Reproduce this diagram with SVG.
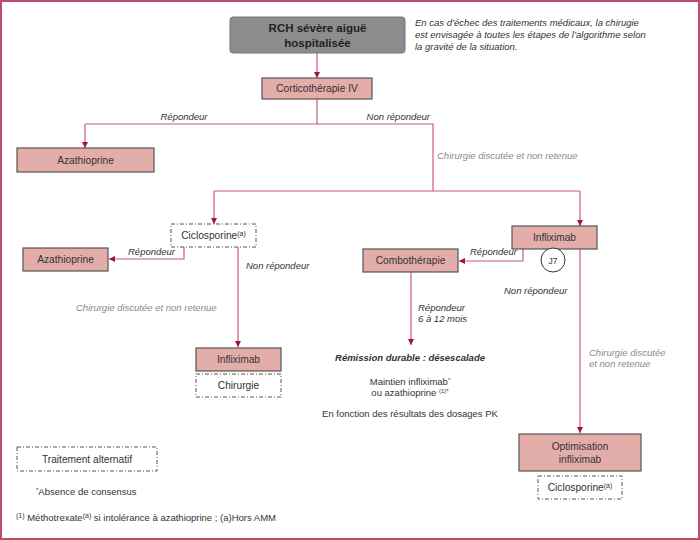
<svg xmlns="http://www.w3.org/2000/svg" width="700" height="540" viewBox="0 0 700 540">
<defs>
<marker id="ah" viewBox="0 0 6 6" refX="6" refY="3" markerWidth="6" markerHeight="6" markerUnits="userSpaceOnUse" orient="auto">
<path d="M0,0 L6,3 L0,6 Z" fill="#a3143c"/>
</marker>
<style>
text{font-family:"Liberation Sans",Arial,sans-serif;font-size:9.5px;fill:#333}
.c{text-anchor:middle}
.it{font-style:italic}
.g{fill:#8a8a8a}
.bt{font-size:10.2px}
.box{fill:#e3adaa;stroke:#555;stroke-width:1.2}
.dash{fill:#fff;stroke:#555;stroke-width:1;stroke-dasharray:4 2 1 2}
.ln{fill:none;stroke:#cc5a80;stroke-width:1.2}
.ar{marker-end:url(#ah)}
</style>
</defs>
<rect x="1" y="1" width="698" height="538" fill="#fff" stroke="#c24a6e" stroke-width="2"/>

<g id="connectors">
<path class="ln ar" d="M317,53 V78"/>
<path class="ln" d="M317,99 V124 M85,124 H433 V191 M214,191 H580"/>
<path class="ln ar" d="M85,124 V148"/>
<path class="ln ar" d="M214,191 V224"/>
<path class="ln ar" d="M580,191 V226"/>
<path class="ln ar" d="M184,247 V259 H109"/>
<path class="ln ar" d="M238,247 V347"/>
<path class="ln ar" d="M523,249 V261 H459"/>
<path class="ln ar" d="M580,249 V433"/>
<path class="ln ar" d="M411,272 V345"/>
</g>

<g id="rch">
<rect x="230" y="17" width="175" height="36" rx="3" fill="#8c8c8c" stroke="#777" stroke-width="1"/>
<text class="c" x="317.5" y="32" style="font-size:11.5px;font-weight:bold;fill:#222">RCH sévère aiguë</text>
<text class="c" x="317.5" y="47" style="font-size:11.5px;font-weight:bold;fill:#222">hospitalisée</text>
</g>
<g id="note">
<text class="it" x="415" y="26">En cas d’échec des traitements médicaux, la chirugie</text>
<text class="it" x="415" y="38">est envisagée à toutes les étapes de l’algorithme selon</text>
<text class="it" x="415" y="50">la gravité de la situation.</text>
</g>
<g id="cortico">
<rect class="box" x="262" y="78" width="110" height="21"/>
<text class="c bt" x="317" y="92">Corticothérapie IV</text>
</g>
<g id="labels-top">
<text class="it c" x="184" y="120">Répondeur</text>
<text class="it" x="430" y="120" text-anchor="end">Non répondeur</text>
<text class="it g" x="437" y="159">Chirurgie discutée et non retenue</text>
</g>
<g id="aza1">
<rect class="box" x="17" y="148" width="137" height="24"/>
<text class="c bt" x="85.5" y="164">Azathioprine</text>
</g>
<g id="ciclo1">
<rect class="dash" x="171" y="224" width="85" height="23"/>
<text class="c bt" x="213.5" y="239">Ciclosporine<tspan dy="-3" style="font-size:7px">(a)</tspan></text>
</g>
<g id="aza2">
<rect class="box" x="23" y="248" width="85" height="23"/>
<text class="c bt" x="65.5" y="263">Azathioprine</text>
</g>
<g id="labels-left">
<text class="it" x="128" y="255">Répondeur</text>
<text class="it" x="246" y="269">Non répondeur</text>
<text class="it g" x="76" y="311">Chirurgie discutée et non retenue</text>
</g>
<g id="inflix2">
<rect class="box" x="196" y="348" width="85" height="23"/>
<text class="c bt" x="238.5" y="363">Infliximab</text>
</g>
<g id="chirurgie">
<rect class="dash" x="196" y="374" width="85" height="23"/>
<text class="c bt" x="238.5" y="389">Chirurgie</text>
</g>
<g id="inflix1">
<rect class="box" x="512" y="226" width="85" height="23"/>
<text class="c bt" x="554.5" y="241">Infliximab</text>
</g>
<g id="j7">
<circle cx="553" cy="260" r="12" fill="#fff" stroke="#333" stroke-width="1"/>
<text class="c" x="553" y="263.5" style="font-size:8.5px">J7</text>
</g>
<g id="combo">
<rect class="box" x="363" y="249" width="95" height="23"/>
<text class="c bt" x="410.5" y="264">Combothérapie</text>
</g>
<g id="labels-right">
<text class="it" x="470" y="255">Répondeur</text>
<text class="it" x="504" y="294">Non répondeur</text>
<text class="it" x="418" y="311">Répondeur</text>
<text class="it" x="418" y="322">6 à 12 mois</text>
<text class="it g" x="589" y="356">Chirurgie discutée</text>
<text class="it g" x="589" y="367">et non retenue</text>
</g>
<g id="remission">
<text class="c it" x="410" y="361" style="font-weight:bold">Rémission durable : désescalade</text>
<text class="c" x="410" y="385">Maintien infliximab<tspan dy="-3" style="font-size:6px">*</tspan></text>
<text class="c" x="410" y="396">ou azathioprine <tspan dy="-3" style="font-size:6px">(1)*</tspan></text>
<text class="c" x="410" y="417">En fonction des résultats des dosages PK</text>
</g>
<g id="optim">
<rect class="box" x="519" y="434" width="122" height="37"/>
<text class="c bt" x="580" y="450">Optimisation</text>
<text class="c bt" x="580" y="463">infliximab</text>
</g>
<g id="ciclo2">
<rect class="dash" x="538" y="476" width="84" height="23"/>
<text class="c bt" x="580" y="491">Ciclosporine<tspan dy="-3" style="font-size:7px">(a)</tspan></text>
</g>
<g id="legend">
<rect class="dash" x="17" y="447" width="140" height="24"/>
<text class="c bt" x="87" y="463">Traitement alternatif</text>
<text x="36" y="495"><tspan dy="-3" style="font-size:6px">*</tspan><tspan dy="3">Absence de consensus</tspan></text>
<text x="16" y="521"><tspan dy="-3" style="font-size:7px">(1)</tspan><tspan dy="3"> Méthotrexate</tspan><tspan dy="-3" style="font-size:7px">(a)</tspan><tspan dy="3"> si intolérance à azathioprine ; (a)Hors AMM</tspan></text>
</g>
</svg>
